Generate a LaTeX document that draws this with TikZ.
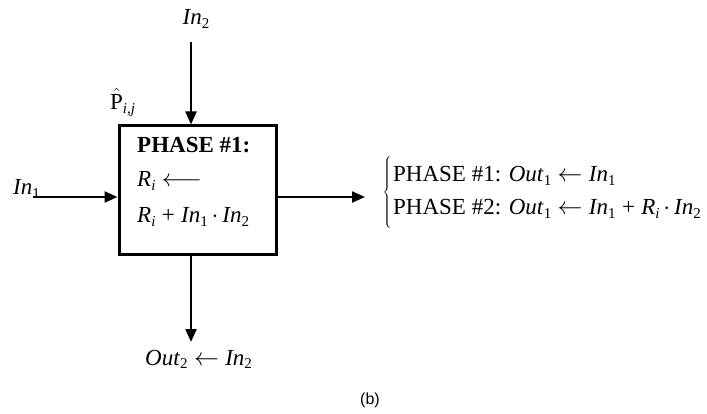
\documentclass[tikz,border=0pt]{standalone}
\usepackage{fontspec}
\setmainfont{Liberation Serif}
\newfontfamily\capfont{Liberation Sans}
\usetikzlibrary{arrows.meta}
\newcommand{\sbs}[1]{\raisebox{-0.35ex}{\fontsize{15}{15}\selectfont #1}}
\newcommand{\myarr}{\;$\leftarrow$\;}
\begin{document}
\begin{tikzpicture}[x=1pt,y=-1pt,
  lbl/.style={inner sep=0pt, font=\fontsize{23}{26}\selectfont},
  conn/.style={line width=2.2pt, -{Triangle[length=13pt,width=11pt]}},
  blk/.style={draw, line width=3pt, minimum width=157pt, minimum height=129pt, inner sep=0pt}]
\useasboundingbox (0,0) rectangle (707,414);
\node[blk] (box) at (197.5,190.5) {};
\node[lbl, anchor=base west] (t1) at (137,153) {\textbf{PHASE \#1:}};
\node[lbl, anchor=base west] (t2) at (137,187) {\textit{R}\sbs{\textit{i}}\;$\longleftarrow$};
\node[lbl, anchor=base west] (t3) at (137,223) {\textit{R}\sbs{\textit{i}}\;+\;\textit{In}\sbs{1}\,$\cdot$\,\textit{In}\sbs{2}};
\node[lbl, anchor=base] (in2) at (196,25) {\textit{In}\sbs{2}};
\coordinate (in2s) at (191,42);
\node[lbl, anchor=base west] (p) at (110,110) {$\hat{\mathrm{P}}$\sbs{\textit{i,j}}};
\node[lbl, anchor=base west] (in1) at (13,195) {\textit{In}\sbs{1}};
\coordinate (in1s) at (33,197);
\coordinate (outr) at (365,197);
\coordinate (outb) at (191,342);
\node[lbl, anchor=east] (br) at (393,193.5) {$\left\{\vrule height 31.5pt depth 31.5pt width 0pt\right.$};
\node[lbl, anchor=base west] (r1) at (393,182) {PHASE \#1: \textit{Out}\sbs{1}\myarr\textit{In}\sbs{1}};
\node[lbl, anchor=base west] (r2) at (393,215) {PHASE \#2: \textit{Out}\sbs{1}\myarr\textit{In}\sbs{1}\;+\;\textit{R}\sbs{\textit{i}}\,$\cdot$\,\textit{In}\sbs{2}};
\node[lbl, anchor=base west] (out2) at (145,365) {\textit{Out}\sbs{2}\myarr\textit{In}\sbs{2}};
\node[inner sep=0pt, font=\capfont\fontsize{16}{18}\selectfont] (cap) at (370,400) {(b)};
\draw[conn] (in2s) -- (box.north -| in2s);
\draw[conn] (in1s) -- (box.west |- in1s);
\draw[conn] (box.east |- outr) -- (outr);
\draw[conn] (box.south -| outb) -- (outb);
\end{tikzpicture}
\end{document}
